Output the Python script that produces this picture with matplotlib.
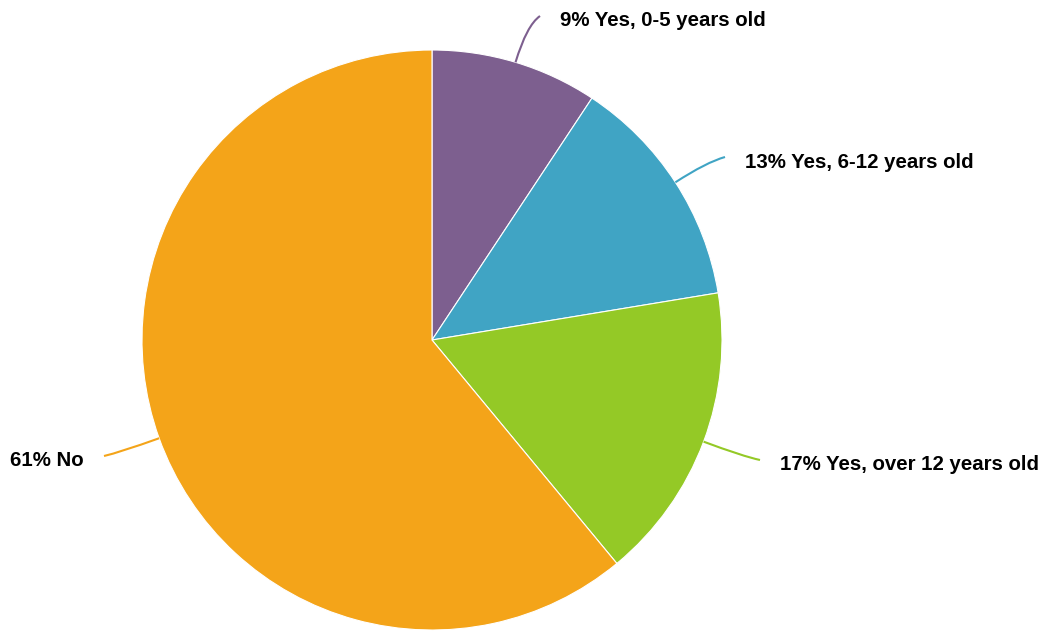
import matplotlib.pyplot as plt
import numpy as np
from matplotlib.path import Path
from matplotlib.patches import PathPatch

plt.rcParams["font.family"] = ["Liberation Sans", "DejaVu Sans"]

labels = ["Yes, 0-5 years old", "Yes, 6-12 years old", "Yes, over 12 years old", "No"]
shares = [9.3, 13.1, 16.6, 61.0]
colors = ["#7D5F8F", "#40A4C4", "#94C926", "#F4A419"]

W, H = 1047, 631
cx, cy, r = 432, H - 340, 290

# label anchor (pixel coords from top-left), alignment
label_pos = [(560, 21, "left"), (745, 162, "left"), (780, 465, "left"), (84, 461, "right")]

fig = plt.figure(figsize=(W / 100, H / 100), dpi=100)
ax = fig.add_axes([0, 0, 1, 1])

wedges, _ = ax.pie(shares, colors=colors, startangle=90, counterclock=False,
                   center=(cx, cy), radius=r,
                   wedgeprops=dict(edgecolor="white", linewidth=0.8))
ax.set_xlim(0, W)
ax.set_ylim(0, H)
ax.set_aspect("equal")
ax.axis("off")

start = 90.0
for share, lab, col, (lx, ly, ha) in zip(shares, labels, colors, label_pos):
    mid = np.deg2rad(start - share * 3.6 / 2)
    start -= share * 3.6
    d = np.array([np.cos(mid), np.sin(mid)])
    p0 = np.array([cx, cy]) + d * r
    ty = H - ly
    end = np.array([lx - 20 if ha == "left" else lx + 20, ty + 5])
    t = abs((end[1] - p0[1]) / d[1]) * 0.8 if abs(d[1]) > 1e-3 else 20
    ctrl = p0 + d * t
    path = Path([p0, ctrl, end], [Path.MOVETO, Path.CURVE3, Path.CURVE3])
    ax.add_patch(PathPatch(path, facecolor="none", edgecolor=col, lw=1.5))
    ax.text(lx, ty, f"{share:.0f}% {lab}", ha=ha, va="center",
            fontsize=14.7, fontweight="bold", color="black")

fig.savefig("out.png", dpi=100)
